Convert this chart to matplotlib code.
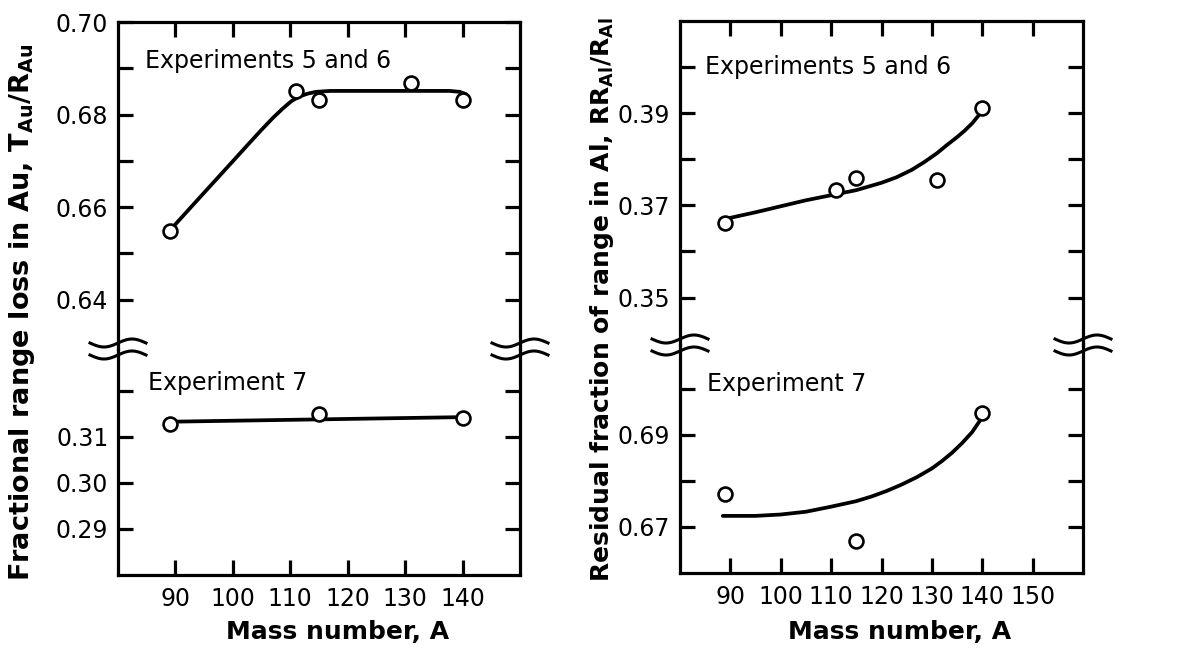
import matplotlib
matplotlib.use("Agg")
import matplotlib.pyplot as plt
from matplotlib.lines import Line2D
import numpy as np

# mass numbers of the fission products measured
mass_56 = [89, 111, 115, 131, 140]
mass_7 = [89, 115, 140]

# fractional range loss in Au, T_Au / R_Au
au_56 = [0.6548, 0.6850, 0.6832, 0.6868, 0.6832]
au_7 = [0.3128, 0.3149, 0.3142]
# hand drawn curves
au_56_fit_x = [89.8, 95, 100, 103, 105, 107, 108.7, 110.2, 111.6, 113, 114.5,
               117, 120, 130, 137.7, 139.5, 140.6]
au_56_fit_y = [0.6560, 0.6631, 0.6699, 0.6740, 0.6767, 0.6793, 0.6813, 0.6829,
               0.6839, 0.6845, 0.6849, 0.6851, 0.6851, 0.6851, 0.6851, 0.6849, 0.6844]
au_7_fit_x = [89, 140]
au_7_fit_y = [0.3133, 0.3143]

# residual fraction of range in Al, RR_Al / R_Al
al_56 = [0.3662, 0.3734, 0.3760, 0.3756, 0.3911]
al_7 = [0.6772, 0.6670, 0.6947]
al_56_fit_x = [89.6, 95, 100, 105, 110, 115, 120, 123, 126, 128.5, 131, 133,
               135, 136.5, 138, 139.5]
al_56_fit_y = [0.3672, 0.3685, 0.3698, 0.3711, 0.3722, 0.3733, 0.3749, 0.3761,
               0.3777, 0.3794, 0.3813, 0.3831, 0.3848, 0.3862, 0.3878, 0.3898]
al_7_fit_x = [88.5, 95, 100, 105, 110, 115, 118, 121, 124, 127, 130, 132,
              134, 136, 138, 139.8]
al_7_fit_y = [0.6724, 0.6724, 0.6727, 0.6733, 0.6744, 0.6756, 0.6766, 0.6778,
              0.6792, 0.6808, 0.6827, 0.6843, 0.6861, 0.6882, 0.6906, 0.6935]

W, H = 1183, 649
fig = plt.figure(figsize=(W / 100, H / 100), dpi=100)
plt.rcParams['mathtext.fontset'] = 'dejavusans'

LW = 2.3


def px_axes(x0, x1, y0, y1):
    return fig.add_axes([x0 / W, 1 - y1 / H, (x1 - x0) / W, (y1 - y0) / H])


def style(ax, top, xticks, ymajor, yminor):
    ax.set_facecolor('none')
    for s in ax.spines.values():
        s.set_linewidth(LW)
    ax.spines['bottom' if top else 'top'].set_visible(False)
    ax.set_xticks(xticks)
    ax.set_yticks(ymajor)
    ax.set_yticks(yminor, minor=True)
    ax.set_yticklabels(['%.2f' % v for v in ymajor])
    ax.tick_params(which='both', direction='in', length=11, width=LW,
                   left=True, right=True, top=top, bottom=not top,
                   labelbottom=not top, labelsize=17, pad=7)
    ax.tick_params(axis='x', pad=9)


def squiggle(x_px, y_px):
    t = np.linspace(-1, 1, 60)
    xs = x_px + 28 * t
    for dy in (-6, 6):
        ys = y_px + dy - 4 * np.sin(np.pi * t)
        fig.add_artist(Line2D(xs / W, 1 - ys / H, color='k', lw=2.2))


def draw(ax, x, y, fx, fy):
    ax.plot(fx, fy, color='k', lw=2.7, zorder=2, solid_capstyle='round',
            solid_joinstyle='round')
    ax.plot(x, y, 'o', ms=10, mfc='white', mec='k', mew=1.9, zorder=3)


# ---- left panel ----
lu = px_axes(118, 520, 22, 349)
ll = px_axes(118, 520, 349, 575)
draw(lu, mass_56, au_56, au_56_fit_x, au_56_fit_y)
draw(ll, mass_7, au_7, au_7_fit_x, au_7_fit_y)
for ax in (lu, ll):
    ax.set_xlim(80, 150)
lu.set_ylim(0.6293, 0.70)
ll.set_ylim(0.28, 0.3291)
style(lu, True, [90, 100, 110, 120, 130, 140], [0.64, 0.66, 0.68, 0.70], [0.65, 0.67, 0.69])
style(ll, False, [90, 100, 110, 120, 130, 140], [0.29, 0.30, 0.31], [0.32])
lu.text(0.067, 0.88, 'Experiments 5 and 6', transform=lu.transAxes, fontsize=17, va='center')
ll.text(0.075, 0.85, 'Experiment 7', transform=ll.transAxes, fontsize=17, va='center')
squiggle(118, 349)
squiggle(520, 349)

# ---- right panel ----
ru = px_axes(680, 1083, 21, 345)
rl = px_axes(680, 1083, 345, 573)
draw(ru, mass_56, al_56, al_56_fit_x, al_56_fit_y)
draw(rl, mass_7, al_7, al_7_fit_x, al_7_fit_y)
for ax in (ru, rl):
    ax.set_xlim(80, 160)
ru.set_ylim(0.3397, 0.41)
rl.set_ylim(0.66, 0.7095)
style(ru, True, [90, 100, 110, 120, 130, 140, 150], [0.35, 0.37, 0.39], [0.36, 0.38, 0.40])
style(rl, False, [90, 100, 110, 120, 130, 140, 150], [0.67, 0.69], [0.68, 0.70])
ru.text(0.062, 0.858, 'Experiments 5 and 6', transform=ru.transAxes, fontsize=17, va='center')
rl.text(0.067, 0.83, 'Experiment 7', transform=rl.transAxes, fontsize=17, va='center')
squiggle(680, 345)
squiggle(1083, 345)

# axis labels
fig.text(338 / W, 1 - 632 / H, 'Mass number, A', fontsize=18, fontweight='bold',
         ha='center', va='center')
fig.text(900 / W, 1 - 632 / H, 'Mass number, A', fontsize=18, fontweight='bold',
         ha='center', va='center')
fig.text(22 / W, 1 - 312 / H, r'Fractional range loss in Au, T$_{\mathbf{Au}}$/R$_{\mathbf{Au}}$',
         fontsize=19.5, fontweight='bold', rotation=90, ha='center', va='center')
fig.text(602 / W, 1 - 300 / H, r'Residual fraction of range in Al, RR$_{\mathbf{Al}}$/R$_{\mathbf{Al}}$',
         fontsize=18, fontweight='bold', rotation=90, ha='center', va='center')

fig.savefig('out.png', dpi=100)
